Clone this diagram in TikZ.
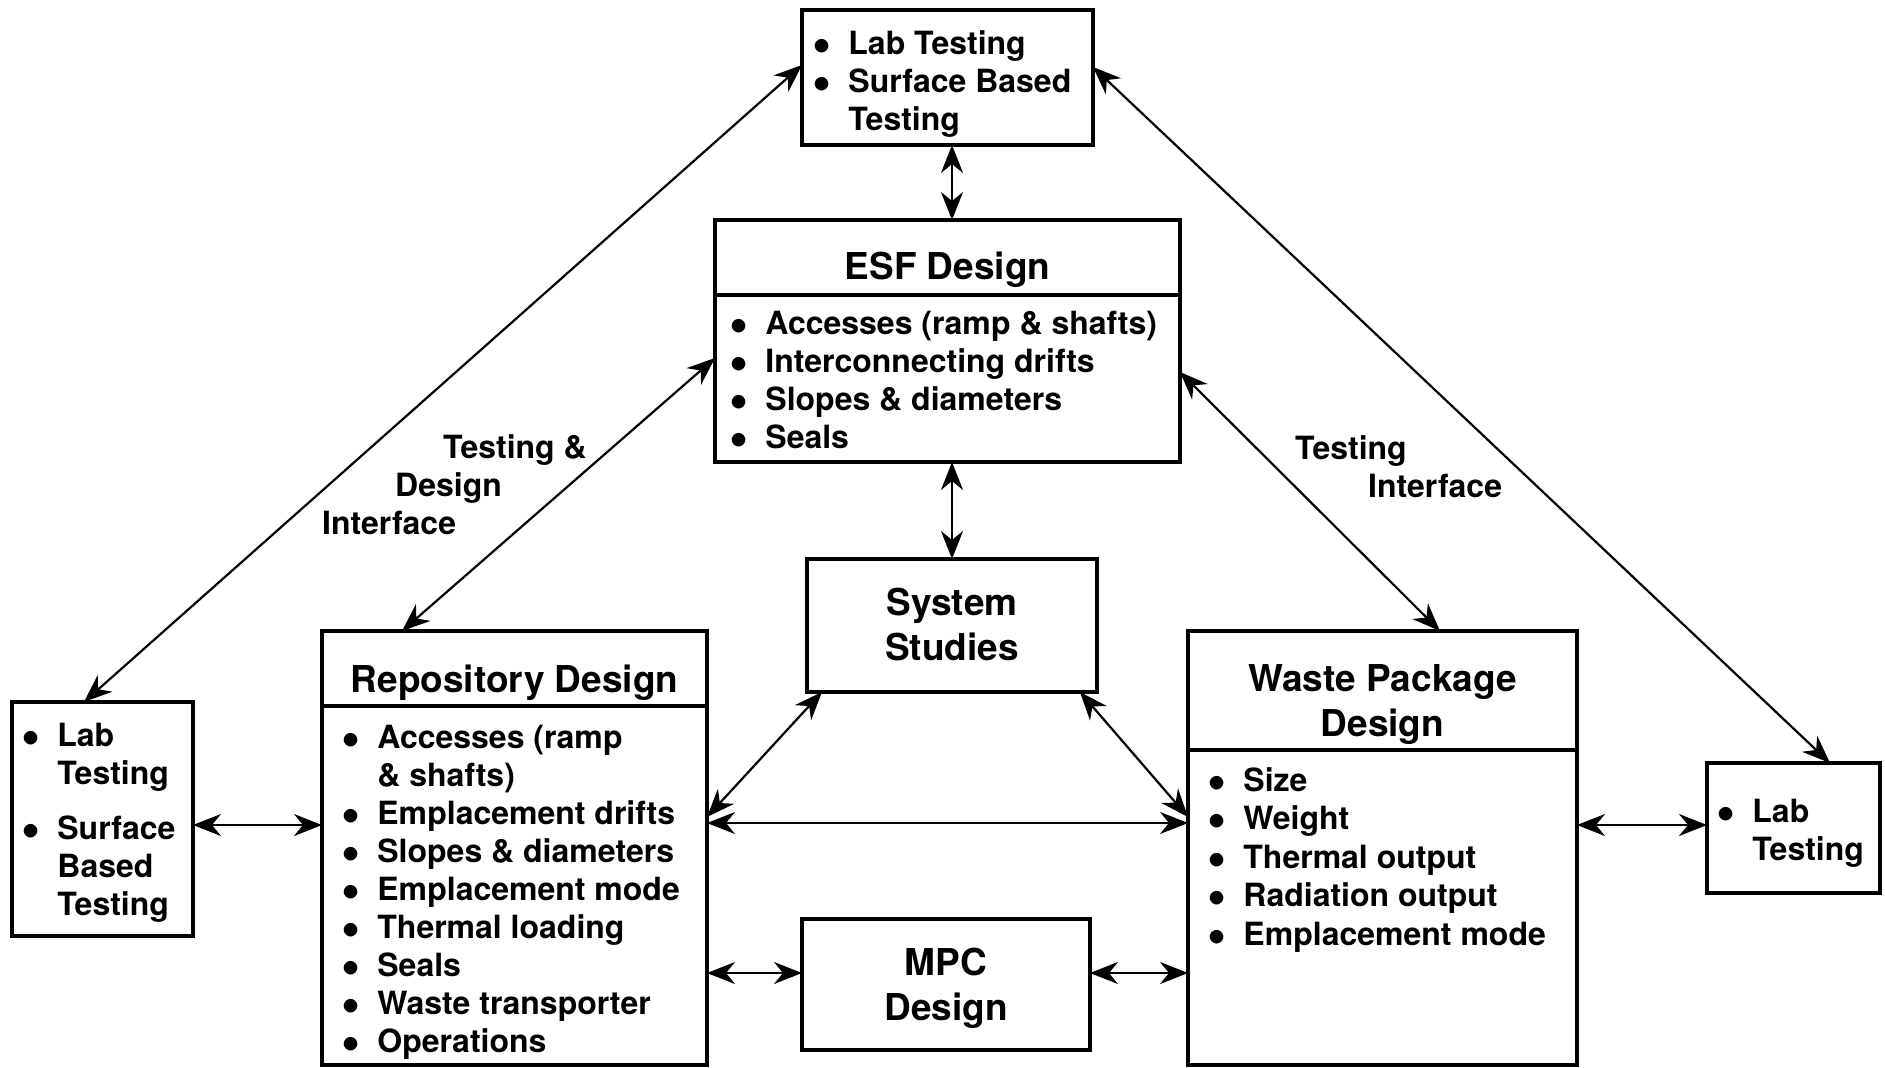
\documentclass[tikz,border=0pt]{standalone}
\usepackage{fontspec}
\setmainfont{TeX Gyre Heros}
\usetikzlibrary{arrows.meta}
\newcommand\bul{\makebox[11.2pt]{\smash{\raisebox{-8pt}{\scalebox{1.7}{\textbullet}}}}}
\newcommand\blist[1]{\begin{tabular}[t]{@{}l@{\hspace{21pt}}l@{}}#1\end{tabular}}
\newcommand\clist[1]{\begin{tabular}[t]{@{}c@{}}#1\end{tabular}}
\newcommand\llist[1]{\begin{tabular}[t]{@{}l@{}}#1\end{tabular}}
\begin{document}
\begin{tikzpicture}[x=1pt,y=-1pt,
  box/.style={draw, line width=4.5pt, inner sep=0pt, outer sep=0pt, anchor=north west},
  sepline/.style={line width=3.5pt},
  link/.style={line width=2.2pt, {Stealth[length=28pt,width=22pt,inset=9pt]}-{Stealth[length=28pt,width=22pt,inset=9pt]}},
  list/.style={inner sep=0pt, anchor=base west, font=\fontsize{32}{38}\selectfont\bfseries},
  head/.style={inner sep=0pt, anchor=base, font=\fontsize{37}{45}\selectfont\bfseries},
  lbl/.style={inner sep=0pt, anchor=base west, font=\fontsize{32}{38}\selectfont\bfseries}]
\fill[white] (0,0) rectangle (1885,1068);
\useasboundingbox (0,0) rectangle (1885,1068);

% boxes
\node[box, minimum width=291pt, minimum height=135pt] (lab) at (802,10) {};
\node[box, minimum width=465pt, minimum height=242pt] (esf) at (715,220) {};
\node[box, minimum width=290pt, minimum height=133pt] (ss) at (807,559) {};
\node[box, minimum width=385pt, minimum height=434pt] (repo) at (322,631) {};
\node[box, minimum width=389pt, minimum height=434pt] (waste) at (1188,631) {};
\node[box, minimum width=181pt, minimum height=234pt] (llab) at (12,702) {};
\node[box, minimum width=173pt, minimum height=130pt] (rlab) at (1707,763) {};
\node[box, minimum width=288pt, minimum height=131pt] (mpc) at (802,919) {};

% header separators
\draw[sepline] ([yshift=-75pt]esf.north west) -- ([yshift=-75pt]esf.north east);
\draw[sepline] ([yshift=-75pt]repo.north west) -- ([yshift=-75pt]repo.north east);
\draw[sepline] ([yshift=-119pt]waste.north west) -- ([yshift=-119pt]waste.north east);

% headings
\node[head] (esfh) at (947.5,279) {ESF Design};
\node[head] (repoh) at (514.5,692) {Repository Design};
\node[head] (wasteh) at (1382.5,691) {\clist{Waste Package\\ Design}};
\node[head] (ssh) at (952,615) {\clist{System\\ Studies}};
\node[head, font=\fontsize{37}{45.5}\selectfont\bfseries] (mpch) at (946,975) {\clist{MPC\\ Design}};

% lists
\node[list] (labt) at (816,54) {\blist{\bul & Lab Testing\\ \bul & Surface Based\\ & Testing}};
\node[list] (esft) at (733,334) {\blist{\bul & Accesses (ramp \& shafts)\\ \bul & Interconnecting drifts\\ \bul & Slopes \& diameters\\ \bul & Seals}};
\node[list] (repot) at (345,748) {\blist{\bul & Accesses (ramp\\ & \& shafts)\\ \bul & Emplacement drifts\\ \bul & Slopes \& diameters\\ \bul & Emplacement mode\\ \bul & Thermal loading\\ \bul & Seals\\ \bul & Waste transporter\\ \bul & Operations}};
\node[list, font=\fontsize{32}{38.5}\selectfont\bfseries] (wastet) at (1211,791) {\blist{\bul & Size\\ \bul & Weight\\ \bul & Thermal output\\ \bul & Radiation output\\ \bul & Emplacement mode}};
\node[list] (llabt) at (25,746) {\blist{\bul & Lab\\ & Testing\\[17pt] \bul & Surface\\ & Based\\ & Testing}};
\node[list] (rlabt) at (1720,822) {\blist{\bul & Lab\\ & Testing}};

% connector labels
\node[lbl] (tdi) at (322,458) {\llist{\hspace*{121pt}Testing \&\\ \hspace*{73pt}Design\\ Interface}};
\node[lbl] (ti) at (1295,459) {\llist{Testing\\ \hspace*{73pt}Interface}};

% connectors
\draw[link] ([xshift=4.5pt]lab.south) -- ([xshift=4.5pt]esf.north);
\draw[link] ([xshift=4.5pt]esf.south) -- (ss.north);
\draw[link] ([yshift=-55pt]lab.north west) -- ([xshift=72pt]llab.north west);
\draw[link] ([yshift=-57pt]lab.north east) -- ([xshift=123pt]rlab.north west);
\draw[link] ([yshift=-138pt]esf.north west) -- ([xshift=80pt]repo.north west);
\draw[link] ([yshift=-152pt]esf.north east) -- ([xshift=252pt]waste.north west);
\draw[link] ([xshift=15pt]ss.south west) -- ([yshift=-186pt]repo.north east);
\draw[link] ([xshift=-17pt]ss.south east) -- ([yshift=-186pt]waste.north west);
\draw[link] ([yshift=-192pt]repo.north east) -- ([yshift=-192pt]waste.north west);
\draw[link] ([yshift=-123pt]llab.north east) -- ([yshift=-194pt]repo.north west);
\draw[link] ([yshift=-342pt]repo.north east) -- ([yshift=-54pt]mpc.north west);
\draw[link] ([yshift=-54pt]mpc.north east) -- ([yshift=-342pt]waste.north west);
\draw[link] ([yshift=-194pt]waste.north east) -- ([yshift=-62pt]rlab.north west);
\end{tikzpicture}
\end{document}
